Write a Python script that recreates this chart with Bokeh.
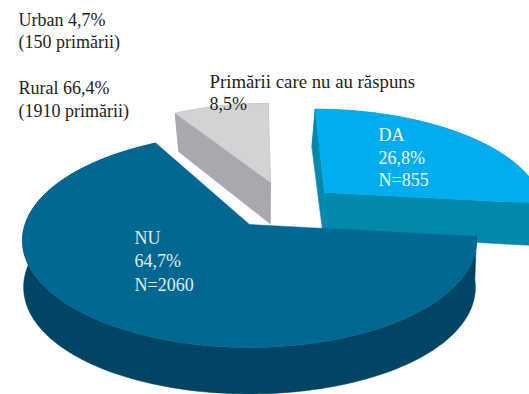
import numpy as np
from bokeh.plotting import figure
from bokeh.models import Range1d
from bokeh.core.properties import value
from bokeh.embed import file_html
from bokeh.resources import INLINE

# data
slice_names = ["Primării care nu au răspuns", "NU", "DA"]
shares = [8.5, 64.7, 26.8]
counts = [None, 2060, 855]
rural_urban = ["Urban 4,7%", "(150 primării)", "Rural 66,4%", "(1910 primării)"]

# style / layout
top_colors = ["#D1D3D4", "#006892", "#00AEEF"]
side_colors = ["#A7A9AC", "#004564", "#0088AD"]
first_angle = 90.0                       # the grey slice starts at 12 o'clock
offsets = [(0.10, 0.43), (0.0, 0.0), (0.35, 0.32)]
radii = [0.97, 1.0, 1.0]
start_pads = [0.0, -2.4, 0.0]            # the artwork's large slice opens a little wider
CX, CY, RX, K, C = 249.0, 224.0, 224.5, -71.1, 0.1495


def project(u, v):
    w = 1 + C * v
    return CX + RX * u / w, (CY + K * v) / w


def lower(x, y, v):
    s = 0.99 - 0.03 * v
    return CX + (x - CX) * s, y + 43 - 3.5 * v


def wall(points):
    u = np.array([q[0] for q in points])
    v = np.array([q[1] for q in points])
    x, y = project(u, v)
    xb, yb = lower(x, y, v)
    return np.r_[x, xb[::-1]], np.r_[y, yb[::-1]]


# slice angles come from the shares alone
angles = {}
a = first_angle
for name, share, pad in zip(slice_names, shares, start_pads):
    angles[name] = (a + pad, a + share * 3.6)
    a += share * 3.6

p = figure(width=529, height=394, output_backend="svg", toolbar_location=None,
           x_range=Range1d(0, 529), y_range=Range1d(394, 0),
           min_border=0, outline_line_color=None, background_fill_color="white")
p.axis.visible = False
p.grid.visible = False

for i in (2, 0, 1):
    name = slice_names[i]
    a0, a1 = angles[name]
    ox, oy = offsets[i]
    r = radii[i]
    th = np.radians(np.linspace(a0, a1, 160))
    arc = list(zip(ox + r * np.cos(th), oy + r * np.sin(th)))
    apex = (ox, oy)
    # outer wall
    x, y = wall(arc)
    p.patch(x, y, fill_color=side_colors[i], line_color=side_colors[i], line_width=0.5)
    # cut walls
    if name != "NU":
        for end in (arc[0], arc[-1]):
            x, y = wall([apex, end])
            p.patch(x, y, fill_color=side_colors[i], line_color=side_colors[i], line_width=0.5)
    # top face
    u = np.array([apex[0]] + [q[0] for q in arc])
    v = np.array([apex[1]] + [q[1] for q in arc])
    x, y = project(u, v)
    p.patch(x, y, fill_color=top_colors[i], line_color=top_colors[i], line_width=0.5)

serif = value("Liberation Serif")
dark = "#231F20"


def label(x, y, text, color=dark, size="18px"):
    p.text([x], [y], text=[text], text_font=serif, text_font_size=size,
           text_color=color, text_baseline="middle", text_align="left")


label(18, 19, rural_urban[0])
label(18, 41, rural_urban[1])
label(18, 87, rural_urban[2])
label(18, 110, rural_urban[3])

fmt = lambda s: f"{s:.1f}".replace(".", ",") + "%"
label(209, 81, slice_names[0], size="18.8px")
label(209, 103, fmt(shares[0]))
label(378, 134, slice_names[2], "#F2FAFE")
label(378, 157, fmt(shares[2]), "#F2FAFE")
label(378, 179, f"N={counts[2]}", "#F2FAFE")
label(134, 237, slice_names[1], "#E3EBF0")
label(134, 260, fmt(shares[1]), "#E3EBF0")
label(134, 284, f"N={counts[1]}", "#E3EBF0")

open("out.html", "w").write(file_html(p, INLINE))
